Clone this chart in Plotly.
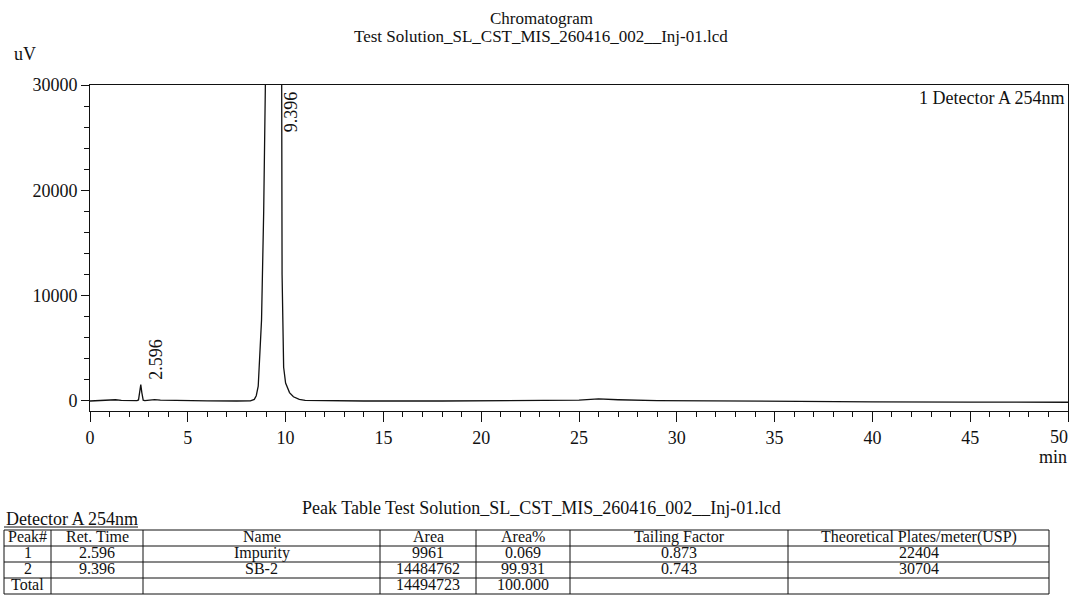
import plotly.graph_objects as go

W, H = 1072, 600
FONT = "Liberation Serif"
INK = "#111111"

# Detector A 254nm trace: retention time (min) and signal (uV)
time_min = [0.0, 0.5, 1.0, 1.3, 1.6, 2.0, 2.40, 2.48, 2.55, 2.596, 2.65, 2.72, 2.8,
            3.0, 3.3, 3.6, 4.5, 6.0, 7.5, 8.2, 8.4, 8.5, 8.6, 8.68, 8.77, 8.88,
            8.99, 9.1, 9.396, 9.7, 9.80, 9.82, 9.85, 9.9, 10.0, 10.2, 10.4, 10.7,
            11.0, 12.0, 14.0, 18.0, 22.0, 25.0, 26.0, 27.0, 29.0, 32.0, 36.0,
            40.0, 45.0, 50.0]
signal_uv = [0, 20, 60, 120, 60, 30, 30, 100, 900, 1560, 800, 80, 40,
             60, 130, 80, 30, 10, 0, 20, 150, 500, 1400, 3900, 7700, 18000,
             30000, 60000, 90000, 60000, 30000, 12000, 6000, 3200, 1700, 800, 400, 150,
             60, 20, 0, 0, 20, 80, 200, 120, 40, 0, -60,
             -80, -100, -120]

# axis ticks
x_ticks = [0, 5, 10, 15, 20, 25, 30, 35, 40, 45, 50]
y_ticks = [0, 10000, 20000, 30000]

# Peak table
peak_rt = [2.596, 9.396]
peak_names = ["Impurity", "SB-2"]
peak_area = [9961, 14484762]
peak_area_pct = [0.069, 99.931]
tailing_factor = [0.873, 0.743]
plates_per_m = [22404, 30704]
table_headers = ["Peak#", "Ret. Time", "Name", "Area", "Area%",
                 "Tailing Factor", "Theoretical Plates/meter(USP)"]

sample_file = "Test Solution_SL_CST_MIS_260416_002__Inj-01.lcd"
detector = "Detector A 254nm"

# plot box (pixels)
L, R, T, B = 90, 1068, 85, 411
Y_MIN, Y_MAX = -950, 30000


def fx(px):
    return px / W


def fy(py):
    return 1 - py / H


fig = go.Figure()
fig.add_trace(go.Scatter(
    x=time_min, y=signal_uv, mode="lines",
    line=dict(color=INK, width=1.3), hoverinfo="skip", showlegend=False,
))

axis_common = dict(
    showline=True, linecolor=INK, linewidth=1, mirror=True,
    ticks="outside", tickcolor=INK, tickwidth=1,
    showgrid=False, zeroline=False,
    tickfont=dict(family=FONT, size=18, color=INK),
)
# the last x label is drawn separately, right-aligned to the plot edge
fig.update_xaxes(
    domain=[fx(L), fx(R)], range=[0, 50],
    tickmode="array", tickvals=x_ticks,
    ticktext=[str(v) for v in x_ticks[:-1]] + [""], ticklen=10,
    minor=dict(tickmode="linear", tick0=0, dtick=1, ticks="outside", ticklen=5,
               tickcolor=INK, showgrid=False),
    **axis_common,
)
fig.update_yaxes(
    domain=[fy(B), fy(T)], range=[Y_MIN, Y_MAX],
    tickmode="array", tickvals=y_ticks, ticktext=[str(v) for v in y_ticks],
    ticklen=8,
    minor=dict(tickmode="linear", tick0=0, dtick=2000, ticks="outside", ticklen=5,
               tickcolor=INK, showgrid=False),
    **axis_common,
)

ann = []


def text(x, y, s, size=18, xanchor="center", yanchor="middle", **kw):
    ann.append(dict(x=fx(x), y=fy(y), xref="paper", yref="paper", text=s,
                    showarrow=False, xanchor=xanchor, yanchor=yanchor,
                    font=dict(family=FONT, size=size, color=INK), **kw))


# titles and axis captions
text(541, 18, "Chromatogram", size=17)
text(541, 37, sample_file, size=17)
text(12, 54, "uV", xanchor="left")
text(1069, 457, "min", xanchor="right")
text(1066, 98, "1 " + detector, xanchor="right")
ann.append(dict(x=x_ticks[-1], y=fy(437), xref="x", yref="paper",
                text=str(x_ticks[-1]), showarrow=False, xanchor="right",
                yanchor="middle", xshift=2,
                font=dict(family=FONT, size=18, color=INK)))

# retention-time labels at the peak tops
for rt in peak_rt:
    apex = signal_uv[time_min.index(rt)]
    if apex >= Y_MAX:
        ann.append(dict(x=rt, y=Y_MAX, xref="x", yref="y", text=f"{rt:.3f}",
                        showarrow=False, textangle=-90, xanchor="center", yanchor="top",
                        xshift=18, yshift=-4,
                        font=dict(family=FONT, size=18, color=INK)))
    else:
        ann.append(dict(x=rt, y=apex, xref="x", yref="y", text=f"{rt:.3f}",
                        showarrow=False, textangle=-90, xanchor="center", yanchor="bottom",
                        xshift=15, yshift=3,
                        font=dict(family=FONT, size=18, color=INK)))

# peak table
text(541, 508, "Peak Table " + sample_file)
text(4, 519, detector, xanchor="left", size=18)

col_edges = [4, 51, 143, 380, 476, 570, 788, 1049]
row_edges = [530, 546, 562, 578, 594]
TABLE_FONT = 16

rows = [table_headers]
for i, rt in enumerate(peak_rt):
    rows.append([str(i + 1), f"{rt:.3f}", peak_names[i], str(peak_area[i]),
                 f"{peak_area_pct[i]:.3f}", f"{tailing_factor[i]:.3f}",
                 str(plates_per_m[i])])
rows.append(["Total", "", "", str(sum(peak_area)),
             f"{sum(peak_area_pct):.3f}", "", ""])

for r, row in enumerate(rows):
    yc = (row_edges[r] + row_edges[r + 1]) / 2
    for c, cell in enumerate(row):
        if cell:
            xc = (col_edges[c] + col_edges[c + 1]) / 2
            text(xc, yc, cell, size=TABLE_FONT, yshift=1.5)

shapes = []
line_style = dict(color=INK, width=1)
for y in row_edges:
    shapes.append(dict(type="line", xref="paper", yref="paper",
                       x0=fx(col_edges[0]), x1=fx(col_edges[-1]), y0=fy(y), y1=fy(y),
                       line=line_style))
for x in col_edges:
    shapes.append(dict(type="line", xref="paper", yref="paper",
                       x0=fx(x), x1=fx(x), y0=fy(row_edges[0]), y1=fy(row_edges[-1]),
                       line=line_style))
# underline of the detector caption
shapes.append(dict(type="line", xref="paper", yref="paper",
                   x0=fx(4), x1=fx(138), y0=fy(527), y1=fy(527), line=line_style))

fig.update_layout(
    width=W, height=H,
    margin=dict(l=0, r=0, t=0, b=0, autoexpand=False),
    paper_bgcolor="white", plot_bgcolor="white",
    annotations=ann, shapes=shapes, showlegend=False,
)

fig.write_html("out.html")
